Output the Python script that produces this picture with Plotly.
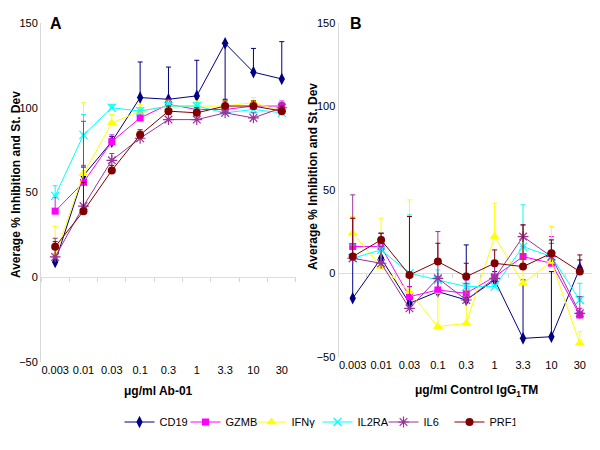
import plotly.graph_objects as go

cats = ["0.003", "0.01", "0.03", "0.1", "0.3", "1", "3.3", "10", "30"]
series_names = ["CD19", "GZMB", "IFNγ", "IL2RA", "IL6", "PRF1"]

# Panel A: Ab-01 (means and + St. Dev)
cd19_a = [9, 60, 80, 106, 105, 107, 138, 121, 117]
cd19_a_sd = [3, 5, 3, 21, 19, 21, 0, 14, 22]
cd19_a_sd_minus = [0, 0, 0, 0, 0, 0, 33, 0, 0]
gzmb_a = [39, 56, 80, 94, 102, 99, 99, 101, 101]
gzmb_a_sd = [8, 10, 4, 3, 3, 2, 3, 3, 3]
ifng_a = [13, 61, 91, 98, 101, 101, 101, 103, 98]
ifng_a_sd = [17, 42, 5, 4, 3, 3, 3, 3, 3]
il2ra_a = [48, 84, 100, 98, 101, 101, 97, 99, 97]
il2ra_a_sd = [6, 12, 2, 2, 2, 2, 2, 2, 2]
il6_a = [12, 42, 69, 82, 93, 93, 97, 94, 100]
il6_a_sd = [11, 50, 4, 4, 3, 3, 3, 3, 3]
prf1_a = [18, 39, 63, 84, 98, 97, 101, 101, 98]
prf1_a_sd = [3, 17, 3, 3, 3, 3, 3, 3, 3]

# Panel B: Control IgG1TM (means and + St. Dev)
cd19_b = [-15, 9, -18, -11, -16, -4, -39, -38, 3]
cd19_b_sd = [23, 15, 10, 8, 33, 5, 35, 39, 5]
gzmb_b = [16, 16, -14, -10, -12, -2, 10, 6, -25]
gzmb_b_sd = [17, 8, 6, 8, 8, 6, 6, 16, 4]
ifng_b = [24, 4, -11, -32, -30, 22, -6, 7, -42]
ifng_b_sd = [10, 29, 55, 20, 20, 20, 30, 21, 7]
il2ra_b = [9, 14, 0, -4, -8, -8, 16, 10, -16]
il2ra_b_sd = [8, 8, 35, 6, 8, 8, 25, 10, 10]
il6_b = [9, 6, -21, -3, -16, -3, 22, 10, -24]
il6_b_sd = [38, 10, 20, 28, 10, 10, 7, 8, 10]
prf1_b = [10, 20, -1, 7, -2, 6, 4, 12, 1]
prf1_b_sd = [23, 4, 35, 11, 8, 8, 25, 8, 10]

y_ticks = [-50, 0, 50, 100, 150]

colors = ["#000080", "#FF00FF", "#FFFF00", "#00FFFF", "#993399", "#800000"]
symbols = ["diamond-tall", "square", "triangle-up", "x-thin-open", "asterisk-open", "circle"]
sizes = [9, 7, 9, 8, 9, 8]

zeros = [0] * len(cats)
data_a = [
    (cd19_a, cd19_a_sd, cd19_a_sd_minus),
    (gzmb_a, gzmb_a_sd, zeros),
    (ifng_a, ifng_a_sd, zeros),
    (il2ra_a, il2ra_a_sd, zeros),
    (il6_a, il6_a_sd, zeros),
    (prf1_a, prf1_a_sd, zeros),
]
data_b = [
    (cd19_b, cd19_b_sd), (gzmb_b, gzmb_b_sd), (ifng_b, ifng_b_sd),
    (il2ra_b, il2ra_b_sd), (il6_b, il6_b_sd), (prf1_b, prf1_b_sd),
]

FONT = "Liberation Sans, Arial, sans-serif"
fig = go.Figure()


def marker_for(i):
    open_sym = symbols[i].endswith("open")
    return dict(
        symbol=symbols[i], size=sizes[i], color=colors[i],
        line=dict(width=1.2 if open_sym else 0, color=colors[i]),
    )


for i, (vals, sp, sm) in enumerate(data_a):
    fig.add_trace(go.Scatter(
        x=cats, y=vals, name=series_names[i], mode="lines+markers",
        xaxis="x", yaxis="y", legendgroup=series_names[i],
        line=dict(color=colors[i], width=1),
        marker=marker_for(i),
        error_y=dict(type="data", symmetric=False, array=sp, arrayminus=sm,
                     color=colors[i], thickness=1, width=2.5),
    ))

for i, (vals, sd) in enumerate(data_b):
    fig.add_trace(go.Scatter(
        x=cats, y=vals, name=series_names[i], mode="lines+markers",
        xaxis="x2", yaxis="y2", legendgroup=series_names[i], showlegend=False,
        line=dict(color=colors[i], width=1),
        marker=marker_for(i),
        error_y=dict(type="data", symmetric=False, array=sd, arrayminus=zeros,
                     color=colors[i], thickness=1, width=2.5),
    ))

# empty traces to host the zero-line tick axes
fig.add_trace(go.Scatter(x=[], y=[], xaxis="x3", yaxis="y", showlegend=False, hoverinfo="skip"))
fig.add_trace(go.Scatter(x=[], y=[], xaxis="x4", yaxis="y2", showlegend=False, hoverinfo="skip"))

dom_a = [0.0, 0.461]
dom_b = [0.538, 1.0]
ydom_b = [0.0156, 1.0]

xcommon = dict(type="category", range=[-0.5, 8.5], showline=False, ticks="",
               showgrid=False, zeroline=False,
               tickfont=dict(family=FONT, size=11, color="black"))
ycommon = dict(range=[-50, 150], tickvals=y_ticks, showline=True, linecolor="#D9D9D9",
               linewidth=1, ticks="", showgrid=False, zeroline=True,
               zerolinecolor="#DDDDDD", zerolinewidth=1,
               tickfont=dict(family=FONT, size=11, color="black"))
tickaxis = dict(type="linear", range=[-0.5, 8.5], tickmode="linear", tick0=-0.5, dtick=1,
                ticks="outside", ticklen=4, tickcolor="#D5D5D5", tickwidth=1,
                showticklabels=False, showgrid=False, zeroline=False, showline=False,
                anchor="free", side="bottom")

# page body has an 8px margin: figure is 592x442 so that it fills the 600x450 window
fig.update_layout(
    width=592, height=442,
    margin=dict(l=33, r=6, t=15, b=88),
    paper_bgcolor="white", plot_bgcolor="white",
    font=dict(family=FONT, color="black"),
    showlegend=True,
    legend=dict(orientation="h", x=0.5, xanchor="center", y=-0.177, yanchor="middle",
                font=dict(family=FONT, size=11, color="black"),
                itemwidth=30, tracegroupgap=0, entrywidth=21, entrywidthmode="pixels"),
    xaxis=dict(domain=dom_a, anchor="y", **xcommon),
    xaxis2=dict(domain=dom_b, anchor="y2", **xcommon),
    xaxis3=dict(domain=dom_a, overlaying="x", position=0.25, **tickaxis),
    xaxis4=dict(domain=dom_b, overlaying="x2", position=ydom_b[0] + (ydom_b[1] - ydom_b[0]) * 0.25, **tickaxis),
    yaxis=dict(domain=[0, 1], anchor="x", **ycommon),
    yaxis2=dict(domain=ydom_b, anchor="x2", **ycommon),
    annotations=[
        dict(text="<b>A</b>", xref="paper", yref="paper", x=0.0127, y=1.0, xanchor="left",
             yanchor="middle", showarrow=False, font=dict(family=FONT, size=16)),
        dict(text="<b>B</b>", xref="paper", yref="paper", x=(348 - 41) / 553, y=1.0, xanchor="left",
             yanchor="middle", showarrow=False, font=dict(family=FONT, size=16)),
        dict(text="<b>Average % Inhibition and St. Dev</b>", xref="paper", yref="paper",
             x=(16 - 41) / 553, y=0.522, textangle=-90, xanchor="center", yanchor="middle",
             showarrow=False, font=dict(family=FONT, size=12)),
        dict(text="<b>Average % Inhibition and St. Dev</b>", xref="paper", yref="paper",
             x=(313 - 41) / 553, y=0.546, textangle=-90, xanchor="center", yanchor="middle",
             showarrow=False, font=dict(family=FONT, size=12)),
        dict(text="<b>μg/ml Ab-01</b>", xref="paper", yref="paper",
             x=(158 - 41) / 553, y=(362 - 390.7) / 339, xanchor="center", yanchor="middle",
             showarrow=False, font=dict(family=FONT, size=12)),
        dict(text="<b>μg/ml Control IgG<sub>1</sub>TM</b>", xref="paper", yref="paper",
             x=(476 - 41) / 553, y=(362 - 390.7) / 339, xanchor="center", yanchor="middle",
             showarrow=False, font=dict(family=FONT, size=12)),
    ],
)

fig.write_html("out.html")
